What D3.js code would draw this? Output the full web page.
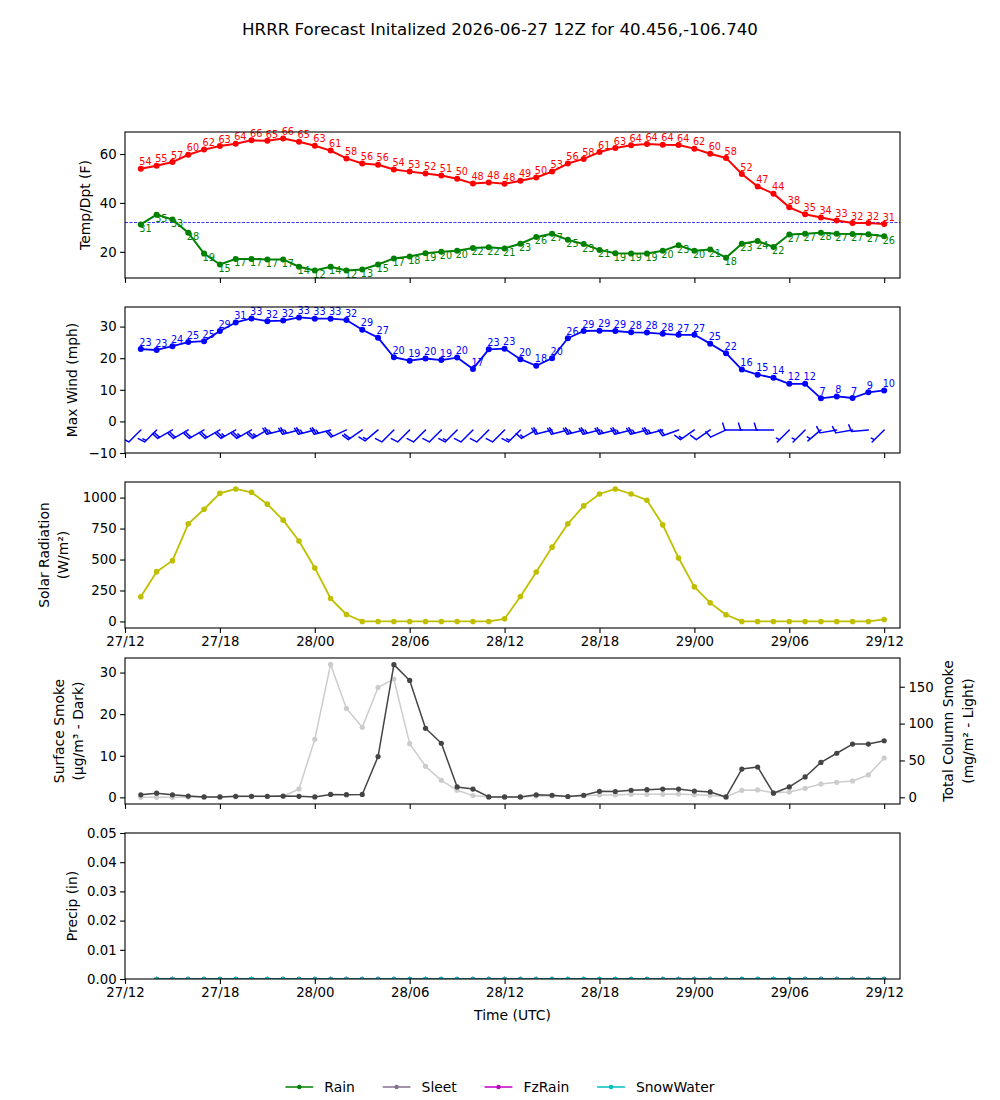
<!DOCTYPE html>
<html>
<head>
<meta charset="utf-8">
<script src="https://cdn.jsdelivr.net/npm/d3@7"></script>
<style>
  body { margin: 0; background: #fff; }
  text { font-family: "DejaVu Sans", sans-serif; }
</style>
</head>
<body>
<div id="chart"></div>
<script>
// forecast run and hours
const initTime = Date.UTC(2026, 5, 27, 12);
const fcstHours = [1, 2, 3, 4, 5, 6, 7, 8, 9, 10, 11, 12, 13, 14, 15, 16, 17, 18, 19, 20, 21, 22, 23, 24,
    25, 26, 27, 28, 29, 30, 31, 32, 33, 34, 35, 36, 37, 38, 39, 40, 41, 42, 43, 44, 45, 46, 47, 48];
const precipHours = [2, 3, 4, 5, 6, 7, 8, 9, 10, 11, 12, 13, 14, 15, 16, 17, 18, 19, 20, 21, 22, 23, 24,
    25, 26, 27, 28, 29, 30, 31, 32, 33, 34, 35, 36, 37, 38, 39, 40, 41, 42, 43, 44, 45, 46, 47, 48];

// temperature / dewpoint (F)
const temp = [54.0, 55.2, 56.7, 59.7, 61.8, 63.3, 64.2, 65.6, 65.4, 66.3, 65.0, 63.4, 61.4, 58.2, 56.1, 55.6,
    53.7, 52.8, 52.0, 51.2, 49.9, 47.9, 48.4, 47.8, 49.1, 50.4, 52.8, 56.1, 58.0, 60.8, 62.5, 63.6,
    64.1, 63.8, 63.7, 62.2, 60.1, 58.4, 51.8, 46.7, 43.8, 38.2, 35.4, 34.0, 32.8, 31.8, 31.8, 31.4];
const dewp = [31.2, 35.2, 33.2, 27.8, 19.3, 14.8, 17.1, 17.1, 16.9, 16.9, 13.9, 12.4, 13.9, 12.4, 12.8, 14.8,
    17.3, 18.1, 19.4, 20.0, 20.4, 21.6, 21.9, 21.4, 23.3, 26.1, 27.4, 24.9, 23.2, 20.8, 19.4, 19.3,
    19.3, 20.4, 22.7, 20.4, 21.0, 17.6, 23.3, 24.4, 22.0, 27.1, 27.4, 27.8, 27.4, 27.3, 27.2, 26.4];
const freezing = 32;

// max wind (mph) and barbs
const maxWind = [22.9, 22.6, 23.8, 25.1, 25.4, 28.6, 31.3, 32.6, 31.7, 31.9, 32.9, 32.5, 32.5, 32.1, 29.0, 26.5,
    20.3, 19.2, 19.9, 19.4, 20.2, 16.6, 22.8, 23.0, 19.7, 17.6, 20.0, 26.3, 28.6, 28.7, 28.6, 28.2,
    28.1, 27.7, 27.4, 27.4, 24.6, 21.6, 16.4, 14.8, 13.8, 11.9, 11.9, 7.3, 7.9, 7.4, 9.2, 9.8];
const barbDir = [225, 225, 240, 240, 240, 240, 240, 240, 240, 255, 255, 255, 255, 245, 235, 230,
    225, 225, 225, 225, 225, 225, 225, 225, 225, 240, 255, 255, 255, 255, 255, 255,
    255, 255, 250, 235, 235, 245, 270, 270, 270, 225, 225, 230, 260, 260, 265, 225];
const barbSpd = [10, 15, 20, 20, 20, 20, 25, 25, 25, 25, 25, 25, 25, 20, 20, 15,
    10, 10, 10, 10, 15, 10, 10, 10, 15, 15, 20, 20, 25, 25, 25, 25,
    25, 25, 20, 15, 10, 10, 10, 10, 10, 5, 5, 5, 10, 10, 10, 5];

// solar radiation (W/m2)
const solar = [199, 402, 491, 788, 906, 1035, 1070, 1043, 947, 818, 649, 432, 185, 56, 0, 0,
    0, 0, 0, 0, 0, 0, 0, 21, 201, 399, 600, 788, 933, 1029, 1070, 1029,
    979, 780, 512, 279, 150, 54, 0, 0, 0, 0, 0, 0, 0, 0, 0, 16];

// smoke
const sfcSmoke = [0.6, 1.0, 0.6, 0.3, 0.1, 0.1, 0.25, 0.25, 0.25, 0.3, 0.25, 0.1, 0.7, 0.65, 0.7, 9.8,
    31.9, 28.1, 16.6, 13.0, 2.5, 2.0, 0.1, 0.1, 0.1, 0.6, 0.5, 0.2, 0.5, 1.45, 1.4, 1.7,
    1.85, 2.0, 2.0, 1.5, 1.3, 0.1, 6.8, 7.3, 1.0, 2.5, 4.9, 8.4, 10.6, 12.8, 12.8, 13.6];
const colSmoke = [0, 0, 0, 0.3, 0.5, 0.5, 0.8, 1, 1, 1.4, 11.3, 78.6, 180.3, 120.6, 94.9, 149.1,
    160.4, 72.8, 42.0, 23.0, 9.5, 2.3, 0.5, 0.3, 0.3, 1.8, 1.8, 1.0, 1.8, 3.2, 3.2, 4.0,
    4.0, 4.0, 4.5, 3.6, 2.7, 0.5, 9.5, 10.0, 6.3, 7.2, 12.2, 18.0, 20.3, 22.1, 30.3, 53.3];

// precip (in)
const rain = [0, 0, 0, 0, 0, 0, 0, 0, 0, 0, 0, 0, 0, 0, 0, 0, 0, 0, 0, 0, 0, 0, 0, 0,
    0, 0, 0, 0, 0, 0, 0, 0, 0, 0, 0, 0, 0, 0, 0, 0, 0, 0, 0, 0, 0, 0, 0];
const sleet = [0, 0, 0, 0, 0, 0, 0, 0, 0, 0, 0, 0, 0, 0, 0, 0, 0, 0, 0, 0, 0, 0, 0, 0,
    0, 0, 0, 0, 0, 0, 0, 0, 0, 0, 0, 0, 0, 0, 0, 0, 0, 0, 0, 0, 0, 0, 0];
const fzrain = [0, 0, 0, 0, 0, 0, 0, 0, 0, 0, 0, 0, 0, 0, 0, 0, 0, 0, 0, 0, 0, 0, 0, 0,
    0, 0, 0, 0, 0, 0, 0, 0, 0, 0, 0, 0, 0, 0, 0, 0, 0, 0, 0, 0, 0, 0, 0];
const snowWater = [0, 0, 0, 0, 0, 0, 0, 0, 0, 0, 0, 0, 0, 0, 0, 0, 0, 0, 0, 0, 0, 0, 0, 0,
    0, 0, 0, 0, 0, 0, 0, 0, 0, 0, 0, 0, 0, 0, 0, 0, 0, 0, 0, 0, 0, 0, 0];
const precipNames = ['Rain', 'Sleet', 'FzRain', 'SnowWater'];
const precipColors = ['#008000', '#85718f', '#bf00bf', '#00bfbf'];

const tempTicks = [20, 40, 60];
const windTicks = [-10, 0, 10, 20, 30];
const solarTicks = [0, 250, 500, 750, 1000];
const smokeTicks = [0, 10, 20, 30];
const colTicks = [0, 50, 100, 150];
const precipTicks = [0, 0.01, 0.02, 0.03, 0.04, 0.05];

const W = 1000, H = 1100;
const LEFT = 125, RIGHT = 900;
const TICK_FONT = 13.3, LABEL_FONT = 13.9, ANNOT_FONT = 9.7;

const times = fcstHours.map(h => new Date(initTime + h * 3600e3));
const ptimes = precipHours.map(h => new Date(initTime + h * 3600e3));

const svg = d3.select('#chart').append('svg')
    .attr('width', W).attr('height', H)
    .style('background', '#fff');

svg.append('text')
    .attr('x', W / 2).attr('y', 35)
    .attr('text-anchor', 'middle')
    .attr('font-size', 16.67)
    .text('HRRR Forecast Initalized 2026-06-27 12Z for 40.456,-106.740');

const x = d3.scaleUtc()
    .domain([new Date(initTime), new Date(initTime + 49 * 3600e3)])
    .range([LEFT, RIGHT]);

const styleAxis = (g) => {
    g.select('.domain').remove();
    g.selectAll('.tick line').attr('stroke', '#000').attr('stroke-width', 1.1);
    g.selectAll('.tick text').attr('font-size', TICK_FONT).attr('fill', '#000')
        .attr('font-family', '"DejaVu Sans", sans-serif');
};

const makePanel = (top, bottom, domain, ticks, fmt, xLabels) => {
    const y = d3.scaleLinear().domain(domain).range([bottom, top]);
    const g = svg.append('g');
    const id = 'clip' + top;
    svg.append('clipPath').attr('id', id).append('rect')
        .attr('x', LEFT).attr('y', top).attr('width', RIGHT - LEFT).attr('height', bottom - top);
    g.append('g').attr('transform', `translate(${LEFT},0)`)
        .call(d3.axisLeft(y).tickValues(ticks).tickFormat(fmt).tickSize(4.9).tickPadding(3.5))
        .call(styleAxis);
    g.append('g').attr('transform', `translate(0,${bottom})`)
        .call(d3.axisBottom(x).ticks(d3.utcHour.every(6))
            .tickFormat(xLabels ? d3.utcFormat('%d/%H') : '').tickSize(4.9).tickPadding(3.5))
        .call(styleAxis);
    const plot = g.append('g').attr('clip-path', `url(#${id})`);
    return { g, plot, y, top, bottom };
};

const drawSeries = (p, xs, vals, color, lw, r, yScale) => {
    const ys = yScale || p.y;
    const line = d3.line().x((d, i) => x(xs[i])).y(d => ys(d));
    p.plot.append('path').datum(vals)
        .attr('d', line).attr('fill', 'none')
        .attr('stroke', color).attr('stroke-width', lw).attr('stroke-linejoin', 'round');
    p.plot.selectAll(null).data(vals).enter().append('circle')
        .attr('cx', (d, i) => x(xs[i])).attr('cy', d => ys(d))
        .attr('r', r).attr('fill', color);
};

const annotate = (p, vals, color, dy) => {
    p.g.selectAll(null).data(vals).enter().append('text')
        .attr('x', (d, i) => x(times[i]) - 1.5)
        .attr('y', d => p.y(d) + dy)
        .attr('font-size', ANNOT_FONT)
        .attr('fill', color)
        .text(d => Math.round(d));
};

const frame = (p) => {
    p.g.append('rect')
        .attr('x', LEFT).attr('y', p.top)
        .attr('width', RIGHT - LEFT).attr('height', p.bottom - p.top)
        .attr('fill', 'none').attr('stroke', '#000').attr('stroke-width', 1.1);
};

const yLabel = (lines, xs, cy, size) => {
    lines.forEach((t, i) => {
        svg.append('text')
            .attr('transform', `translate(${xs[i]},${cy}) rotate(-90)`)
            .attr('text-anchor', 'middle')
            .attr('dy', '0.35em')
            .attr('font-size', size || LABEL_FONT)
            .text(t);
    });
};

// panel 1: temperature / dewpoint
const p1 = makePanel(132, 278, [9.3, 69.0], tempTicks, d3.format('d'), false);
p1.plot.append('line')
    .attr('x1', LEFT).attr('x2', RIGHT)
    .attr('y1', p1.y(freezing)).attr('y2', p1.y(freezing))
    .attr('stroke', '#0000ff').attr('stroke-width', 0.8).attr('stroke-dasharray', '3,1.5');
drawSeries(p1, times, temp, '#ff0000', 2, 3);
drawSeries(p1, times, dewp, '#008000', 2, 3);
annotate(p1, temp, '#ff0000', -3.3);
annotate(p1, dewp, '#008000', 7.5);
frame(p1);
yLabel(['Temp/Dpt (F)'], [85], (132 + 278) / 2);

// panel 2: max wind and barbs
const p2 = makePanel(307, 453, [-10, 36.2], windTicks, d3.format('d'), false);
drawSeries(p2, times, maxWind, '#0000ff', 1.8, 3);
annotate(p2, maxWind, '#0000ff', -3.3);
const BARB_Y = -2.7;
const BL = 17, BH = 0.4 * BL, BW = 0.25 * BL, BSP = 0.125 * BL;
times.forEach((t, i) => {
    const sx = x(t), sy = p2.y(BARB_Y);
    const th = barbDir[i] * Math.PI / 180;
    const ux = Math.sin(th), uy = -Math.cos(th); // staff toward the wind source
    const px = -uy, py = ux;                      // side the barbs point to
    const spd = Math.round(barbSpd[i] / 5) * 5;
    const nFull = Math.floor(spd / 10);
    const half = spd % 10 >= 5;
    let d = BL;
    let path = `M${sx},${sy}L${sx + ux * BL},${sy + uy * BL}`;
    for (let k = 0; k < nFull; k++) {
        const bx = sx + ux * d, by = sy + uy * d;
        path += `M${bx},${by}L${bx + px * BH + ux * BW / 2},${by + py * BH + uy * BW / 2}`;
        d -= BSP;
    }
    if (half) {
        if (d === BL) d -= 1.5 * BSP;
        const bx = sx + ux * d, by = sy + uy * d;
        path += `M${bx},${by}L${bx + px * BH / 2 + ux * BW / 4},${by + py * BH / 2 + uy * BW / 4}`;
    }
    p2.plot.append('path').attr('d', path)
        .attr('fill', 'none').attr('stroke', '#0000ff').attr('stroke-width', 1.5)
        .attr('stroke-linecap', 'round').attr('stroke-linejoin', 'round');
});
frame(p2);
yLabel(['Max Wind (mph)'], [72], (307 + 453) / 2);

// panel 3: solar radiation
const p3 = makePanel(482, 628, [-53, 1126], solarTicks, d3.format('d'), true);
drawSeries(p3, times, solar, '#bfbf00', 1.8, 2.8);
frame(p3);
yLabel(['Solar Radiation', '(W/m\u00b2)'], [44, 63], (482 + 628) / 2);

// panel 4: smoke
const p4 = makePanel(658, 804, [-1.6, 33.5], smokeTicks, d3.format('d'), false);
const yCol = d3.scaleLinear().domain([-9.1, 189]).range([804, 658]);
p4.g.append('g').attr('transform', `translate(${RIGHT},0)`)
    .call(d3.axisRight(yCol).tickValues(colTicks).tickFormat(d3.format('d')).tickSize(4.9).tickPadding(3.5))
    .call(styleAxis);
drawSeries(p4, times, colSmoke, '#cccccc', 1.5, 2.6, yCol);
drawSeries(p4, times, sfcSmoke, '#444444', 1.5, 2.6);
frame(p4);
yLabel(['Surface Smoke', '(\u03bcg/m\u00b3 - Dark)'], [59, 78], (658 + 804) / 2);
yLabel(['Total Column Smoke', '(mg/m\u00b2 - Light)'], [948, 968], (658 + 804) / 2);

// panel 5: precip
const p5 = makePanel(833, 979, [0, 0.05], precipTicks, d3.format('.2f'), true);
[rain, sleet, fzrain, snowWater].forEach((s, k) => {
    drawSeries(p5, ptimes, s, precipColors[k], 1.5, 2.2);
});
frame(p5);
yLabel(['Precip (in)'], [72], (833 + 979) / 2);
svg.append('text')
    .attr('x', (LEFT + RIGHT) / 2).attr('y', 1020)
    .attr('text-anchor', 'middle').attr('font-size', LABEL_FONT)
    .text('Time (UTC)');

// legend
const legendY = 1087;
const HANDLE = 27.8, PAD = 11.1, COLSP = 27.8;
const legend = svg.append('g');
const items = precipNames.map((name, k) => {
    const it = legend.append('g');
    it.append('line').attr('x1', 0).attr('x2', HANDLE).attr('y1', 0).attr('y2', 0)
        .attr('stroke', precipColors[k]).attr('stroke-width', 1.5);
    it.append('circle').attr('cx', HANDLE / 2).attr('cy', 0).attr('r', 2.2).attr('fill', precipColors[k]);
    const t = it.append('text').attr('x', HANDLE + PAD).attr('y', 0).attr('dy', '0.35em')
        .attr('font-size', LABEL_FONT).text(name);
    return { it, w: HANDLE + PAD + t.node().getComputedTextLength() };
});
const totalW = d3.sum(items, d => d.w) + COLSP * (items.length - 1);
let lx = W / 2 - totalW / 2;
items.forEach(d => {
    d.it.attr('transform', `translate(${lx},${legendY})`);
    lx += d.w + COLSP;
});
</script>
</body>
</html>
